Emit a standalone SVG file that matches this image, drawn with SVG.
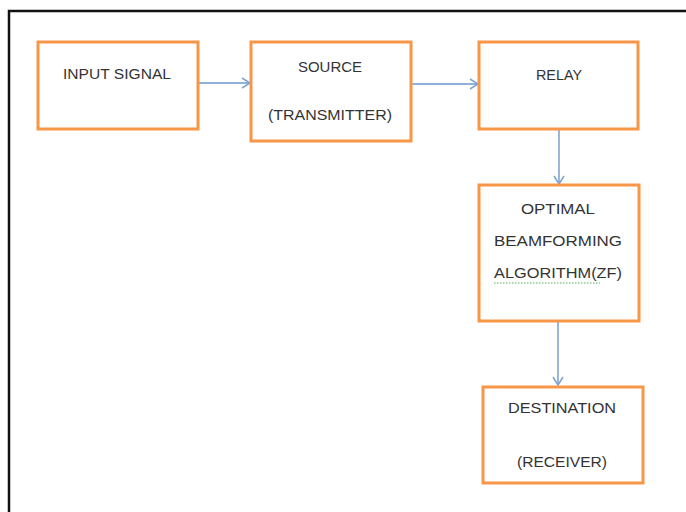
<svg xmlns="http://www.w3.org/2000/svg" width="686" height="512" viewBox="0 0 686 512">
<defs>
<marker id="arr" markerWidth="12" markerHeight="12" refX="10" refY="6" orient="auto" markerUnits="userSpaceOnUse">
<path d="M2,1 L10,6 L2,11" fill="none" stroke="#7fa3d0" stroke-width="1.5"/>
</marker>
<style>
.box{fill:#fff;stroke:#f79646;stroke-width:3}
.t{font-family:"Liberation Sans",Arial,sans-serif;font-size:14px;fill:#333;text-anchor:middle}
.c{stroke:#8eb0da;stroke-width:1.8;fill:none;marker-end:url(#arr)}
</style>
</defs>
<rect width="686" height="512" fill="#fff"/>
<path d="M9,512 V11 H686" fill="none" stroke="#111" stroke-width="2.5"/>
<g id="connectors">
<line class="c" x1="199" y1="83" x2="250" y2="83"/>
<line class="c" x1="411" y1="84" x2="478" y2="84"/>
<line class="c" x1="559" y1="130" x2="559" y2="184"/>
<line class="c" x1="558" y1="322" x2="558" y2="385"/>
</g>
<g id="input">
<rect class="box" x="38" y="42" width="160" height="87"/>
<text class="t" x="117" y="79" textLength="108" lengthAdjust="spacingAndGlyphs">INPUT SIGNAL</text>
</g>
<g id="source">
<rect class="box" x="251" y="42" width="160" height="99"/>
<text class="t" x="330" y="72" textLength="64" lengthAdjust="spacingAndGlyphs">SOURCE</text>
<text class="t" x="330" y="120" textLength="124" lengthAdjust="spacingAndGlyphs">(TRANSMITTER)</text>
</g>
<g id="relay">
<rect class="box" x="479" y="42" width="159" height="87"/>
<text class="t" x="559" y="80" textLength="46" lengthAdjust="spacingAndGlyphs">RELAY</text>
</g>
<g id="optimal">
<rect class="box" x="479" y="185" width="160" height="136"/>
<text class="t" x="558" y="214" textLength="74" lengthAdjust="spacingAndGlyphs">OPTIMAL</text>
<text class="t" x="558" y="246" textLength="128" lengthAdjust="spacingAndGlyphs">BEAMFORMING</text>
<text class="t" x="558" y="278" textLength="128" lengthAdjust="spacingAndGlyphs">ALGORITHM(ZF)</text>
<line x1="494" y1="283" x2="600" y2="283" stroke="#4caf50" stroke-width="1" stroke-dasharray="1.5,1.5"/>
</g>
<g id="destination">
<rect class="box" x="483" y="387" width="160" height="96"/>
<text class="t" x="562" y="413" textLength="108" lengthAdjust="spacingAndGlyphs">DESTINATION</text>
<text class="t" x="562" y="467" textLength="90" lengthAdjust="spacingAndGlyphs">(RECEIVER)</text>
</g>
</svg>
